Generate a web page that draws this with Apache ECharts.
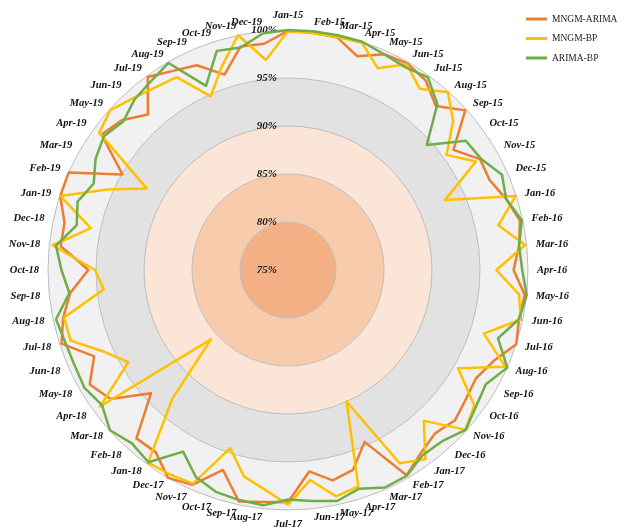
<!DOCTYPE html>
<html>
<head>
<meta charset="utf-8">
<script src="https://cdn.jsdelivr.net/npm/echarts@6/dist/echarts.min.js"></script>
<style>
  html, body { margin: 0; padding: 0; background: #fff; }
  #chart { width: 626px; height: 530px; }
</style>
</head>
<body>
<div id="chart"></div>
<script>
// Months, clockwise from the top
const months = [
  'Jan-15','Feb-15','Mar-15','Apr-15','May-15','Jun-15','Jul-15','Aug-15','Sep-15','Oct-15','Nov-15','Dec-15',
  'Jan-16','Feb-16','Mar-16','Apr-16','May-16','Jun-16','Jul-16','Aug-16','Sep-16','Oct-16','Nov-16','Dec-16',
  'Jan-17','Feb-17','Mar-17','Apr-17','May-17','Jun-17','Jul-17','Aug-17','Sep-17','Oct-17','Nov-17','Dec-17',
  'Jan-18','Feb-18','Mar-18','Apr-18','May-18','Jun-18','Jul-18','Aug-18','Sep-18','Oct-18','Nov-18','Dec-18',
  'Jan-19','Feb-19','Mar-19','Apr-19','May-19','Jun-19','Jul-19','Aug-19','Sep-19','Oct-19','Nov-19','Dec-19'
];

// Accuracy (%) per month
const mngmArima = [
  99.9, 99.85, 99.75, 98.4, 99.6, 99.85, 99.4, 98.0, 99.85, 96.3, 98.1, 98.0,
  98.9, 99.7, 99.2, 98.5, 99.8, 99.6, 100.0, 98.4, 97.6, 97.9, 98.4, 97.9,
  98.55, 99.7, 94.6, 96.9, 97.4, 96.1, 99.2, 99.3, 99.65, 96.9, 99.5, 100.0,
  98.45, 98.6, 94.2, 97.85, 98.85, 97.1, 99.8, 98.95, 97.8, 95.8, 98.8, 98.8,
  99.95, 100.0, 94.9, 99.0, 98.3, 96.8, 99.85, 98.95, 98.35, 96.4, 98.8, 98.7
];
const mngmBp = [
  99.9, 99.8, 99.8, 99.9, 98.0, 99.75, 98.35, 99.9, 98.15, 95.4, 97.6, 92.9,
  99.95, 97.4, 99.85, 96.7, 99.2, 99.8, 96.45, 99.8, 95.45, 99.0, 99.85, 96.15,
  99.35, 98.25, 90.0, 98.7, 99.1, 97.0, 99.45, 98.0, 97.0, 94.5, 99.35, 99.6,
  99.8, 92.95, 85.8, 99.2, 94.2, 95.95, 98.8, 98.85, 94.3, 95.1, 99.65, 96.0,
  99.95, 95.6, 92.0, 99.3, 99.9, 99.1, 98.5, 98.2, 94.8, 97.3, 100.0, 97.0
];
const arimaBp = [
  100.0, 100.0, 100.0, 100.0, 99.6, 99.4, 99.8, 98.25, 94.45, 97.9, 98.2, 99.4,
  98.9, 99.9, 99.2, 99.4, 100.0, 99.6, 98.0, 100.0, 98.8, 99.2, 99.9, 99.0,
  98.85, 99.75, 99.8, 98.95, 99.6, 99.2, 98.9, 99.65, 99.5, 99.3, 98.6, 96.85,
  99.75, 99.3, 99.95, 98.95, 99.5, 99.35, 99.4, 99.7, 97.9, 98.6, 99.3, 97.5,
  98.05, 97.15, 98.15, 98.7, 98.1, 98.9, 99.3, 99.9, 96.0, 99.0, 98.7, 99.8
];

const seriesNames = ['MNGM-ARIMA', 'MNGM-BP', 'ARIMA-BP'];
const seriesColors = ['#ED7D31', '#FFC000', '#70AD47'];
const seriesValues = [mngmArima, mngmBp, arimaBp];

// Radial scale and band fills (inner to outer)
const axisMin = 75, axisMax = 100, axisSplits = 5;
const bandColors = ['#F3B084', '#F8CBAD', '#FBE5D6', '#E2E2E2', '#F1F1F1'];

// ECharts lays radar indicators out counter-clockwise; reorder so the months run clockwise
const order = months.map((_, k) => (months.length - k) % months.length);

const serifBoldItalic = {
  fontFamily: '"Liberation Serif", "Times New Roman", serif',
  fontStyle: 'italic',
  fontWeight: 'bold'
};

const indicators = order.map((idx, k) => {
  const ind = { name: months[idx], min: axisMin, max: axisMax };
  if (k === 0) {
    ind.axisLabel = Object.assign({
      show: true,
      showMinLabel: true,
      showMaxLabel: true,
      fontSize: 11,
      color: '#1a1a1a',
      margin: 11,
      formatter: '{value}%'
    }, serifBoldItalic);
  }
  return ind;
});

const chart = echarts.init(document.getElementById('chart'), null, { renderer: 'canvas' });

chart.setOption({
  backgroundColor: '#ffffff',
  animation: false,
  legend: {
    orient: 'vertical',
    left: 526,
    top: 13,
    padding: 0,
    icon: 'rect',
    itemWidth: 21,
    itemHeight: 3,
    itemGap: 7.5,
    data: seriesNames,
    textStyle: {
      fontFamily: '"Liberation Serif", "Times New Roman", serif',
      fontSize: 9.5,
      lineHeight: 12,
      color: '#222'
    }
  },
  radar: {
    center: [288, 270],
    radius: 240,
    startAngle: 90,
    shape: 'circle',
    splitNumber: axisSplits,
    nameGap: 9,
    axisName: Object.assign({ color: '#111', fontSize: 10.5 }, serifBoldItalic),
    axisLine: { show: false },
    axisTick: { show: false },
    axisLabel: { show: false },
    splitLine: { lineStyle: { color: '#bdbdbd', width: 1 } },
    splitArea: { show: true, areaStyle: { color: bandColors } },
    indicator: indicators
  },
  series: [{
    type: 'radar',
    symbol: 'none',
    data: seriesNames.map((name, s) => ({
      name: name,
      value: order.map(idx => seriesValues[s][idx]),
      lineStyle: { color: seriesColors[s], width: 2.5 },
      itemStyle: { color: seriesColors[s] },
      areaStyle: null
    }))
  }]
});
</script>
</body>
</html>
